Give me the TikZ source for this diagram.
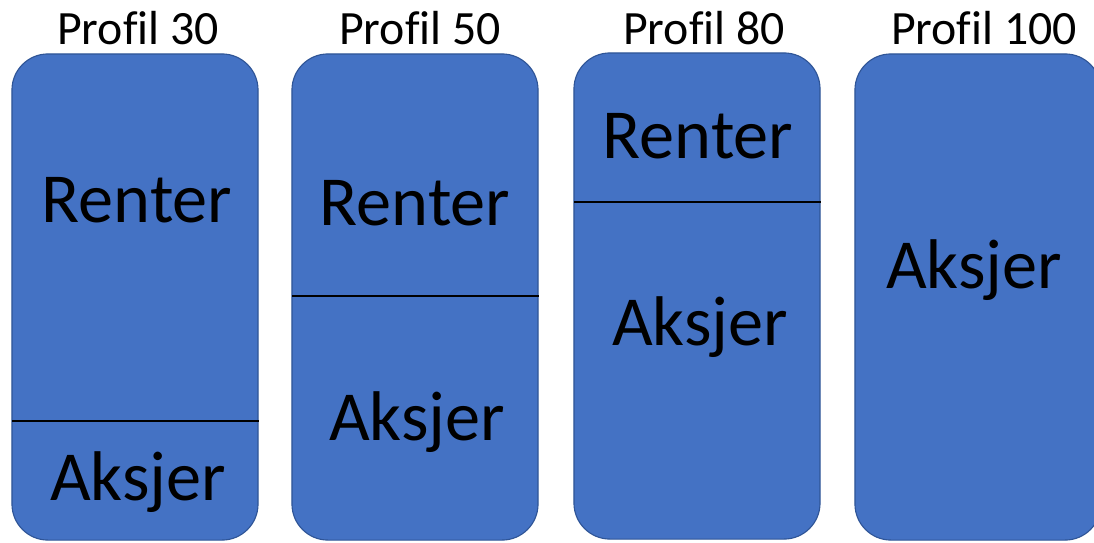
\documentclass[tikz,border=0pt]{standalone}
\usepackage{fontspec}
\setmainfont{Carlito}[Ligatures=NoCommon]
\usepackage{xcolor}
\usetikzlibrary{positioning}
\definecolor{boxblue}{HTML}{4472C4}
\definecolor{boxedge}{HTML}{2F5597}

\begin{document}
\begin{tikzpicture}[
    x=0.025cm, y=-0.025cm,
    profil/.style={rectangle, draw=boxedge, line width=0.8pt, fill=boxblue, rounded corners=0.9cm, minimum width=6.15cm, minimum height=12.15cm, inner sep=0pt},
    title/.style={anchor=base, font=\fontsize{34}{38}\selectfont},
    part/.style={anchor=base, font=\fontsize{50}{54}\selectfont},
    divider/.style={line width=2pt, black}
]
\useasboundingbox (0,0) rectangle (1094,542);
\clip (0,0) rectangle (1094,542);

% the four profiles
\node[profil] (b1) at (135,297) {};
\node[profil] (b2) at (415,297) {};
\node[profil] (b3) at (697,296) {};
\node[profil] (b4) at (978,297) {};

\node[title] (t1) at (138,44) {Profil 30};
\node[title] (t2) at (420,44) {Profil 50};
\node[title] (t3) at (704,44) {Profil 80};
\node[title] (t4) at (984,44) {Profil 100};

% split lines
\coordinate (d1) at (12,421);
\coordinate (d2) at (292,296);
\coordinate (d3) at (574,202);
\draw[divider] (d1) -- (d1 -| b1.east);
\draw[divider] (d2) -- (d2 -| b2.east);
\draw[divider] (d3) -- (d3 -| b3.east);

\node[part] (r1) at (137,222) {Renter};
\node[part] (a1) at (138,500) {Aksjer};
\node[part] (r2) at (415,225) {Renter};
\node[part] (a2) at (417,440) {Aksjer};
\node[part] (r3) at (698,158) {Renter};
\node[part] (a3) at (700,345) {Aksjer};
\node[part] (a4) at (974,288) {Aksjer};

\end{tikzpicture}
\end{document}
